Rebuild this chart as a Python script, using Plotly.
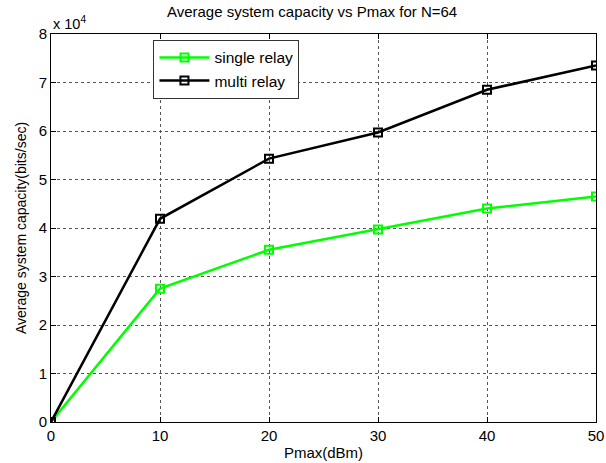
import plotly.graph_objects as go

pmax = [0, 10, 20, 30, 40, 50]
single_relay = [0, 27500, 35500, 39700, 44000, 46500]
multi_relay = [0, 41900, 54300, 59700, 68500, 73500]
y_tick_vals = [0, 10000, 20000, 30000, 40000, 50000, 60000, 70000, 80000]
y_tick_text = ["0", "1", "2", "3", "4", "5", "6", "7", "8"]
x_tick_vals = [0, 10, 20, 30, 40, 50]

FONT = "Liberation Sans, Arial, sans-serif"

fig = go.Figure()
fig.add_trace(go.Scatter(
    x=pmax, y=single_relay, name="single relay", mode="lines+markers",
    line=dict(color="#00ff00", width=2.5),
    marker=dict(symbol="square-open", size=8, color="#00ff00", line=dict(width=2, color="#00ff00")),
))
fig.add_trace(go.Scatter(
    x=pmax, y=multi_relay, name="multi relay", mode="lines+markers",
    line=dict(color="black", width=2.5),
    marker=dict(symbol="square-open", size=8, color="black", line=dict(width=2, color="black")),
))

fig.update_layout(
    width=606, height=463,
    margin=dict(l=51, r=10, t=34, b=41),
    paper_bgcolor="white", plot_bgcolor="white",
    font=dict(family=FONT, size=14, color="black"),
    title=dict(text="Average system capacity vs Pmax for N=64", xref="paper", x=0.479,
               xanchor="center", y=0.985, yanchor="top", font=dict(size=15, family=FONT)),
    showlegend=True,
    legend=dict(x=0.188, y=0.985, xanchor="left", yanchor="top",
                bordercolor="#333333", borderwidth=1, bgcolor="white",
                font=dict(size=15.5, family=FONT), itemwidth=50,
                tracegroupgap=0),
)

fig.update_xaxes(
    range=[0, 50], tickvals=x_tick_vals, ticks="inside", ticklen=5, tickcolor="black",
    showline=True, linecolor="black", linewidth=1, mirror="ticks",
    showgrid=True, gridcolor="#555555", griddash="3px,3px", gridwidth=1,
    zeroline=False, tickfont=dict(size=15), automargin=False,
    title=dict(text="Pmax(dBm)", font=dict(size=15), standoff=4),
)
fig.update_yaxes(
    range=[0, 80000], tickvals=y_tick_vals, ticktext=y_tick_text, ticks="inside", ticklen=5,
    tickcolor="black",
    showline=True, linecolor="black", linewidth=1, mirror="ticks",
    showgrid=True, gridcolor="#555555", griddash="3px,3px", gridwidth=1,
    zeroline=False, tickfont=dict(size=15), automargin=False,
    title=dict(text="Average system capacity(bits/sec)", font=dict(size=14), standoff=8),
)

fig.add_annotation(
    xref="paper", yref="paper", x=0.0, y=1.0, xanchor="left", yanchor="bottom",
    text="x 10<sup>4</sup>", showarrow=False, font=dict(size=14.5, family=FONT), yshift=0,
)

fig.write_html("out.html")
